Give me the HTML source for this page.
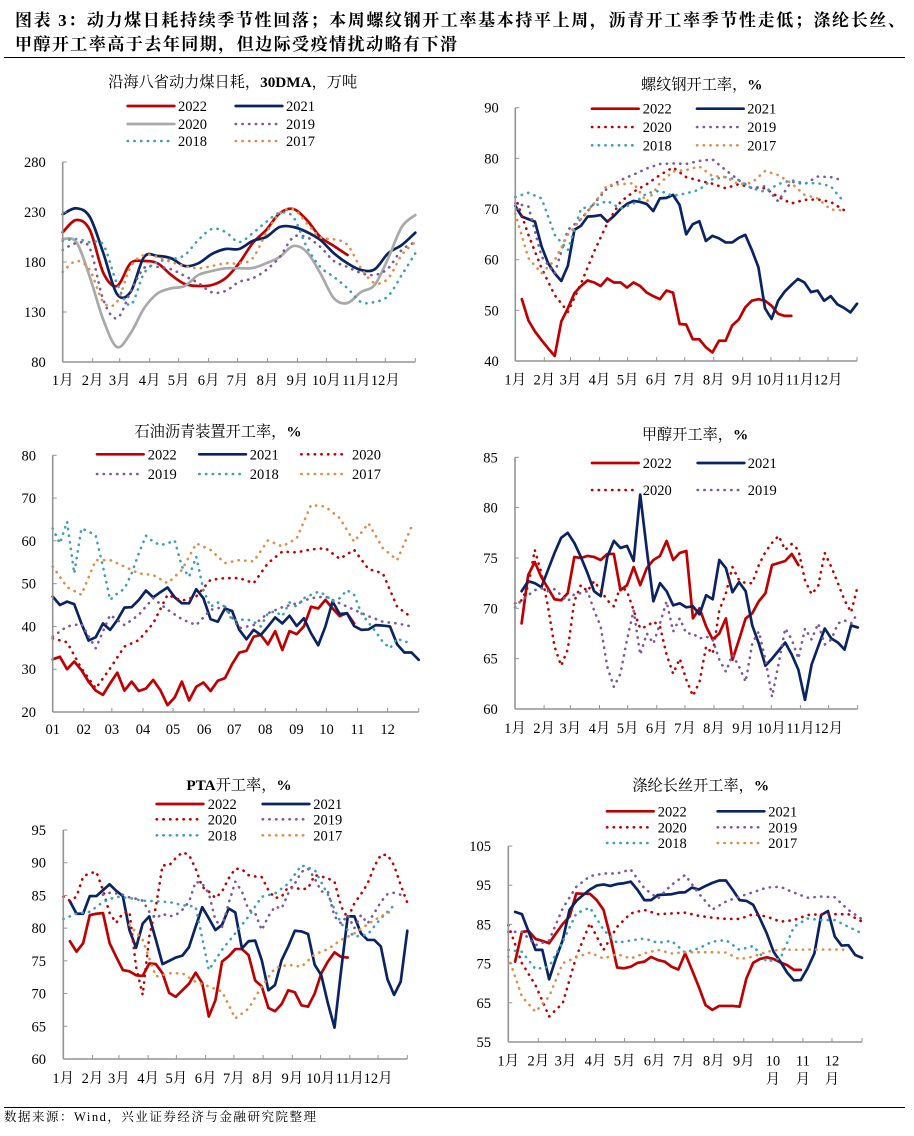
<!DOCTYPE html>
<html lang="zh-CN">
<head>
<meta charset="utf-8">
<title>图表 3</title>
<style>
html,body{margin:0;padding:0;background:#fff;}
body{width:914px;height:1136px;overflow:hidden;}
svg{display:block;}
text{font-family:"Liberation Serif","Noto Serif CJK SC",serif;fill:#000;}
</style>
</head>
<body>
<svg id="root" xmlns="http://www.w3.org/2000/svg" width="914" height="1136" viewBox="0 0 914 1136">
  <text x="15" y="26" font-size="17" font-weight="bold" textLength="890" lengthAdjust="spacing">图表 3：动力煤日耗持续季节性回落；本周螺纹钢开工率基本持平上周，沥青开工率季节性走低；涤纶长丝、</text>
  <text x="15" y="50" font-size="17" font-weight="bold" textLength="442" lengthAdjust="spacing">甲醇开工率高于去年同期，但边际受疫情扰动略有下滑</text>
  <line x1="4" x2="905" y1="57.5" y2="57.5" stroke="#000" stroke-width="1"/>
  <line x1="4" x2="905" y1="1107.5" y2="1107.5" stroke="#000" stroke-width="1"/>
  <text x="4" y="1121" font-size="12.5" textLength="312" lengthAdjust="spacing">数据来源：Wind，兴业证券经济与金融研究院整理</text>
</svg>
<script>
// ---- shared axis data ----
const monthStartDays = [0,31,59,90,120,151,181,212,243,273,304,334,365];
const monthLabels = ['1月','2月','3月','4月','5月','6月','7月','8月','9月','10月','11月','12月'];
const numericMonthLabels = ['01','02','03','04','05','06','07','08','09','10','11','12'];

// ---- chart 1: coal consumption (values every 2 weeks) ----
const coalTicks = [80,130,180,230,280];
const coal2022 = [209.7,222,212,169,156,178.7,181,178.7,167,158,156,157,163.7,178.7,198.7,212,228.7,233,222,205,196,187];
const coal2021 = [227.7,233.7,225,188.7,148,150,185,186,183.7,176,178.7,188,193,193,201,205,215,215,210,202,188.7,178.7,172,172.7,188.7,197,209.3];
const coal2020 = [203,200,165,122,95,108.7,133.7,148.7,153.7,156,167,171,173.7,173.7,174,178.7,185,196,190,168.7,143.7,139,150,157,183.7,215,227];
const coal2019 = [192,198.7,193.7,142,123.7,150,174,175,172.7,166,159,149.7,151,160,163.7,172,185,204.7,204.7,195,181,175,169,167,173.7,192,200];
const coal2018 = [201,203,199.7,197,158.7,137,168.7,180,182.7,187,202,213,210,200,208.7,220,229,225,195,175,165,153.7,140,140,146,167,188.7];
const coal2017 = [170,181,172,140,140,175,187,185,180,176,173.7,176,178.7,178.7,183.7,208.7,228.7,232.7,218.7,204.7,202.7,197,173.7,159,163.7,187,200];

// ---- chart 2: rebar operating rate ----
const rebarTicks = [40,50,60,70,80,90];
const rebar2022 = [52.2,48,45.8,44.1,42.5,41,47.8,50.4,53.4,54.8,55.9,55.5,54.8,56.3,55.5,55.5,54.5,55.5,54.8,53.5,52.8,52.2,53.9,53.5,47.3,47.2,44.3,44.3,42.7,41.7,44,44,47,48.2,50.6,51.9,52.2,51.9,50.9,49.3,48.9,48.9];
const rebar2021 = [70.6,68.5,68,67.5,62.6,59.3,57.3,55.8,58.8,65.9,66.7,68.5,68.6,68.8,67.5,68.6,70,71,71.6,71.4,71,69.6,72.1,72.2,72.8,70.8,65,67,67.6,63.7,64.7,64.2,63.4,63.4,64.3,64.9,61.9,58.5,50.4,48.3,51.9,53.7,55,56.2,55.5,53.6,53.9,51.9,52.8,51.2,50.5,49.6,51.3];
const rebar2020 = [72.4,64.9,58.3,53,49.7,55.3,61.6,67.2,71.4,73.4,74.9,76.7,78.2,76.3,75.6,75,74.1,74.9,74.2,74.1,72.4,71.1,71.8,71.9,71.4,69.8];
const rebar2019 = [71.1,70.5,60.6,57.3,65.9,68,71.1,74.1,75.7,76.8,78,78.9,79,78.9,79.5,79.8,77.7,75.7,74.1,74.5,71.5,75.4,74.9,76.4,76.3,75.6];
const rebar2018 = [72.4,73.2,72.1,64.9,61.9,70.1,70.6,71.6,70.1,71.1,73.1,73.6,72.6,73.1,73.8,75.9,76.3,75.7,74.1,73.4,74.9,75.7,75.1,75.1,74.5,71.4];
const rebar2017 = [69.1,60.3,57.3,59.9,64.9,68,71.1,74.7,74.9,75.1,71.4,75.1,77.4,77.7,78.4,76.5,76.3,74.9,75.2,77.5,76.7,75.1,72.8,72.1,69.9,69.7];

// ---- chart 3: asphalt operating rate ----
const asphaltTicks = [20,30,40,50,60,70,80];
const asphalt2022 = [32.3,32.9,30,31.8,29.8,27.1,25,24,26.7,29.2,25,27.1,24.9,25.5,27.5,25.1,21.6,23.4,27.1,22.7,25.9,26.9,24.9,27.3,27.9,31.2,33.9,34.3,37.6,38,35.8,38.9,34.5,38.9,38.2,40,44.6,44.2,46.2,44.2,42.4,43.1,40.7];
const asphalt2021 = [47,45,45.8,45.2,40.7,36.7,37.5,40.7,39.2,41.5,44.4,44.5,46.2,48.4,46.8,48,49.1,46.8,45.4,45.4,48.7,46.6,41.7,41.1,44.2,43.6,39.2,37,39.2,38,40,42.1,40.7,42.5,40.1,41.9,38.4,35.6,40,45.8,42.9,43.1,40.1,39.2,39.3,40.3,40.2,40,35.8,33.9,33.9,32.2];
const asphalt2020 = [37.2,36.3,30.2,25.5,30.2,35.3,36.8,40.7,47.4,46,47,50.9,51.3,51.3,50.1,54.8,57.5,57.3,58,58.3,55.8,57.9,53.4,52.4,44.6,42.1];
const asphalt2019 = [37.6,40,40.6,34.9,42.7,40.3,42.7,46.6,43.9,41.7,40.3,43.9,44.6,39.6,40.3,43.1,44.5,45.4,46.6,47,45.4,43.9,42.4,41.1,40.7,40];
const asphalt2018 = [62.9,59.4,64.5,52.4,62.9,62.2,61.2,54,46.2,47.7,48.8,52.4,57.1,61.2,59.8,59,59.4,60.1,54,51.6,56.3,48.5,44.6,45.6,44.6,41.5,41.5,41.7,41.1,40,43.1,43.5,42.4,45.6,44.6,46.6,47.4,48.1,47.4,45.8,46.6,48.5,47.4,43.1,40.9,38.8,36.4,34.9,37.2,36.4,36.3];
const asphalt2017 = [54,49.2,47.4,55.5,55.5,54,52.4,52,50.1,53.2,59.4,57.9,54.8,55.5,55.2,60.1,58.7,60.6,68.4,68,65.3,59.8,64.1,58.3,55.5,63.3];

// ---- chart 4: methanol operating rate ----
const methanolTicks = [60,65,70,75,80,85];
const methanol2022 = [68.5,73.3,74.6,73.1,72,70.9,70.8,71.5,75.1,75,75.2,75.1,74.8,75.4,75.4,71.8,72.3,74.1,72.3,74,74.8,75.2,76.7,74.8,75.5,75.7,69,70,68.2,66.9,67.5,69,64.9,66.9,69,69.5,70.7,71.5,74.3,74.5,74.7,75.4,74.3];
const methanol2021 = [71.7,72.7,72.5,72.1,73.8,75.5,77,77.5,76.5,75.1,73.5,71.7,71.2,75.1,76.7,76,76.2,74.7,81.3,75.8,70.7,72.5,71.7,70.3,70.5,70.1,70.2,69.4,71.3,70.9,74.8,74,71.6,72.6,71.7,68.3,66.5,64.3,65,65.8,66.6,65.4,63.9,60.9,64.4,66.2,68,67,66.6,65.9,68.3,68.1];
const methanol2020 = [70.5,70.8,72.2,75.8,73.5,70.2,66.2,64.3,65.9,70.7,72.3,71.7,72.7,71.8,70.8,70.2,72.2,71.7,69.8,68,68.2,68.7,68.2,65.4,63.5,65,62.9,61.3,62.7,66.2,65.5,69.8,71.5,74.1,72.8,72.5,72.5,74.3,75.6,76.5,77.2,75.8,76.4,75.8,72.8,71.4,72.2,75.5,74.1,72.5,70.8,69.6,72.2];
const methanol2019 = [70.1,70.8,71.3,71.8,72,71.7,71.9,71.3,70.7,71.4,71.5,71.7,69.8,68.2,64.2,62.2,63.5,66.9,69.8,65.4,67.5,66.5,68.5,70.7,67.7,69,67.5,67.5,67,67.2,66.9,64.9,63.7,65.4,64.2,62.7,66.5,67.7,64.9,61.2,64.5,68,66.9,65,68,66.9,68.5,66.4,66.9,68.5,68.8,68.5,69.5];

// ---- chart 5: PTA operating rate ----
const ptaTicks = [60,65,70,75,80,85,90,95];
const pta2022 = [78,76.4,77.7,82,82.2,82.3,77.7,75.6,73.6,73.4,72.8,72.7,74.6,74.5,73.1,70.1,69.5,70.5,71.5,73.2,71.6,66.5,69,74.9,75.7,76.8,76.8,75.9,72,71.1,67.8,67.3,68.4,70.5,70.2,68.2,68,70,73.1,74.9,76.3,75.6,75.5];
const pta2021 = [84.1,82.2,82.2,84.9,84.9,85.8,86.7,85.7,84.9,79.7,77,80.7,81.8,78.2,74.5,75,75.5,75.8,77.1,80.2,83.2,81.5,79.7,80.5,83,82.4,76.9,78,78.1,75.1,70.5,71.3,75.1,77.2,79.6,79.5,79.1,74.4,72.8,68.5,64.8,73.6,81.8,81.8,79.2,78.2,78.2,77.2,72.2,69.8,71.8,79.6];
const pta2020 = [84.8,84.2,84.8,87.9,88.4,88.6,85.8,82.3,80.8,82.3,82.5,74.1,69.8,78.7,83.3,89.6,89.6,90.7,91.6,91.2,89.1,86.3,85.6,84.6,85.6,87.6,89.1,89,88.1,87.9,87.8,85.8,84.6,84.8,86.3,86.2,85.9,86.1,88.1,87.9,87.6,87.1,83.3,81.5,83.8,85.2,86.8,89.4,91.2,91.2,89.6,86.6,83.9];
const pta2019 = [85.1,85.4,85.3,85.1,84.7,84.5,84.2,82.5,81.5,82.2,81.8,82,82.8,84,87.1,86.8,85.3,81.2,80.2,83.8,87.1,85.6,82.8,82.3,79.7,81.8,83.3,83,85.3,86.8,88.6,89.1,87.6,85.6,85.6,81.8,80.7,82,80,82,80.7,82.3,84,85.2,85.4,85.1];
const pta2018 = [81.4,82.2,82.5,84,84.8,84.6,84.2,84.1,84,83.5,83.3,73.6,76.7,79.2,81.8,84.8,85.3,86.8,89.6,88.9,85.1,80.7,78.7,79,81.5,83.5];
const pta2017 = [80.5,78.2,72.6,73.1,73.1,71.8,71.1,70.3,66.2,67.7,71.1,73.9,74.4,74.1,76,76.8,78.2,79.2,80.6,81.8,82.8];

// ---- chart 6: polyester filament operating rate ----
const filamentTicks = [55,65,75,85,95,105];
const filament2022 = [75.5,83.1,83.3,81.3,80.8,80.2,82.7,85.1,87,92.9,92.8,92.8,91.2,88.7,81.9,74,73.8,74.2,75.2,75.5,76.7,75.9,75.5,74.2,73.5,77.6,73.4,69.1,64.4,63.2,64.2,64.2,64.2,64,71.2,75.2,76.2,76.6,76.2,75.3,74.6,73.4,73.4];
const filament2021 = [88.2,87.6,83.1,78.5,78.5,71,76.3,81,88.7,91,92.5,93.9,94.9,95.2,94.8,95.3,95.5,95.9,93.8,91.2,91.2,92.5,92.6,92.7,93.1,93.2,94.4,93.9,94.8,95.6,96.2,96.2,93.8,91.2,91,90,86.5,82.7,78,75.5,72.7,70.7,70.8,73.8,77.6,87.4,88.4,81.9,79.6,79.7,77.2,76.5];
const filament2020 = [84.8,75.1,69.5,61.5,64.9,76.8,85.3,78.5,84.4,87.8,88.7,87.6,87.8,88,87.2,86.7,86.4,86.4,87.6,87,85.7,86.1,87.4,87.6,87.6,87.6,85.7];
const filament2019 = [83.1,83.1,79.7,80.9,89.1,94.6,97.3,98,98,99,94.2,91.6,95.1,97.6,92.9,88.8,90.8,92.1,93.2,94.4,94.6,93.1,91.8,92.1,91.9,88.7,86.3];
const filament2018 = [78.5,78,73.6,74.2,80.6,87.8,89.3,83.6,80.3,80.9,81.4,80.3,80.8,77.8,78.9,80.6,81,78.5,79.5,75.5,76.3,84.4,86.5,86.1,86.1,84.4,82.7];
const filament2017 = [76.8,66.6,62.7,66.6,75.1,76.6,77.8,76.3,77.4,76.3,77.6,78.5,77.6,77.9,77.9,77.9,77.8,76.1,76.8,78,78.6,78.5,78.6,78.6,78.6,78.5];

// ---- styles ----
const RED='#c00000', NAVY='#0a2463', GRAY='#a9a9a9', PURPLE='#7b5a9e', TEAL='#3f9fb5', ORANGE='#e08f4a';
const AXIS='#949494';
const NS='http://www.w3.org/2000/svg';
const root=document.getElementById('root');

function make(tag,attrs,parent){
  const el=document.createElementNS(NS,tag);
  for(const k in attrs){el.setAttribute(k,attrs[k]);}
  parent.appendChild(el);
  return el;
}
function smoothPath(pts){
  let d='M'+pts[0][0].toFixed(2)+' '+pts[0][1].toFixed(2);
  for(let i=0;i<pts.length-1;i++){
    const p0=pts[Math.max(i-1,0)],p1=pts[i],p2=pts[i+1],p3=pts[Math.min(i+2,pts.length-1)];
    const c1x=p1[0]+(p2[0]-p0[0])/6,c1y=p1[1]+(p2[1]-p0[1])/6;
    const c2x=p2[0]-(p3[0]-p1[0])/6,c2y=p2[1]-(p3[1]-p1[1])/6;
    d+='C'+c1x.toFixed(2)+' '+c1y.toFixed(2)+' '+c2x.toFixed(2)+' '+c2y.toFixed(2)+' '+p2[0].toFixed(2)+' '+p2[1].toFixed(2);
  }
  return d;
}
function linePath(pts){
  return pts.map((p,i)=>(i?'L':'M')+p[0].toFixed(2)+' '+p[1].toFixed(2)).join('');
}
function strokeAttrs(style,color){
  if(style==='solid'){
    return {fill:'none',stroke:color,'stroke-width':2.7,'stroke-linejoin':'round','stroke-linecap':'round'};
  }
  return {fill:'none',stroke:color,'stroke-width':2.6,'stroke-linecap':'round','stroke-linejoin':'round','stroke-dasharray':'0.3 6.4'};
}

const charts=[
 {name:'coal',x0:62.7,x1:415.3,yTop:162,yBot:362,min:80,max:280,weeks:52,ticks:coalTicks,labelRight:45.7,xLabelY:380,months:monthLabels,smooth:true,
  title:[['沿海八省动力煤日耗，',0],['30DMA',1],['，万吨',0]],titleX:232.7,titleY:82,
  series:[
   {label:'2022',values:coal2022,start:0,step:2,style:'solid',color:RED,lx:127.7,ly:106,tx:178},
   {label:'2021',values:coal2021,start:0,step:2,style:'solid',color:NAVY,lx:235.7,ly:106,tx:286},
   {label:'2020',values:coal2020,start:0,step:2,style:'solid',color:GRAY,lx:127.7,ly:124,tx:178},
   {label:'2019',values:coal2019,start:0,step:2,style:'dot',color:PURPLE,lx:235.7,ly:124,tx:286},
   {label:'2018',values:coal2018,start:0,step:2,style:'dot',color:TEAL,lx:127.7,ly:141,tx:178,lw:41.5},
   {label:'2017',values:coal2017,start:0,step:2,style:'dot',color:ORANGE,lx:235.7,ly:141,tx:286}]},
 {name:'rebar',x0:515.3,x1:857,yTop:107.7,yBot:361,min:40,max:90,weeks:52,ticks:rebarTicks,labelRight:498.7,xLabelY:379.5,months:monthLabels,
  title:[['螺纹钢开工率，',0],['%',1]],titleX:701.7,titleY:84.3,
  series:[
   {label:'2022',values:rebar2022,start:1,step:1,style:'solid',color:RED,lx:592,ly:108.7,tx:642.7},
   {label:'2021',values:rebar2021,start:0,step:1,style:'solid',color:NAVY,lx:697,ly:108.7,tx:747.3},
   {label:'2020',values:rebar2020,start:0,step:2,style:'dot',color:RED,lx:592,ly:127,tx:642.7},
   {label:'2019',values:rebar2019,start:0,step:2,style:'dot',color:PURPLE,lx:697,ly:127,tx:747.3},
   {label:'2018',values:rebar2018,start:0,step:2,style:'dot',color:TEAL,lx:592,ly:145.3,tx:642.7},
   {label:'2017',values:rebar2017,start:0,step:2,style:'dot',color:ORANGE,lx:697,ly:145.3,tx:747.3}]},
 {name:'asphalt',x0:52.7,x1:418.7,yTop:455.3,yBot:712,min:20,max:80,weeks:51,ticks:asphaltTicks,labelRight:36,xLabelY:729,months:numericMonthLabels,
  title:[['石油沥青装置开工率，',0],['%',1]],titleX:218,titleY:431.7,
  series:[
   {label:'2022',values:asphalt2022,start:0,step:1,style:'solid',color:RED,lx:97,ly:454.3,tx:147.7},
   {label:'2021',values:asphalt2021,start:0,step:1,style:'solid',color:NAVY,lx:199.3,ly:454.3,tx:249.7},
   {label:'2020',values:asphalt2020,start:0,step:2,style:'dot',color:RED,lx:301.3,ly:454.3,tx:352,lw:41.5},
   {label:'2019',values:asphalt2019,start:0,step:2,style:'dot',color:PURPLE,lx:97,ly:474,tx:147.7},
   {label:'2018',values:asphalt2018,start:0,step:1,style:'dot',color:TEAL,lx:199.3,ly:474,tx:249.7,lw:41.5},
   {label:'2017',values:asphalt2017,start:0,step:2,style:'dot',color:ORANGE,lx:301.3,ly:474,tx:352,lw:41.5}]},
 {name:'methanol',x0:515,x1:857.7,yTop:457.3,yBot:709,min:60,max:85,weeks:52,ticks:methanolTicks,labelRight:497.7,xLabelY:728,months:monthLabels,
  title:[['甲醇开工率，',0],['%',1]],titleX:695,titleY:434.3,
  series:[
   {label:'2022',values:methanol2022,start:1,step:1,style:'solid',color:RED,lx:592,ly:463,tx:642.7},
   {label:'2021',values:methanol2021,start:1,step:1,style:'solid',color:NAVY,lx:697.7,ly:463,tx:747.7},
   {label:'2020',values:methanol2020,start:0,step:1,style:'dot',color:RED,lx:592,ly:490,tx:642.7,lw:41.5},
   {label:'2019',values:methanol2019,start:0,step:1,style:'dot',color:PURPLE,lx:697.7,ly:490,tx:747.7,lw:41.5}]},
 {name:'pta',x0:63.3,x1:407.3,yTop:830,yBot:1059,min:60,max:95,weeks:52,ticks:ptaTicks,labelRight:46,xLabelY:1078,months:monthLabels,
  title:[['PTA',1],['开工率，',0],['%',1]],titleX:239,titleY:785,
  series:[
   {label:'2022',values:pta2022,start:1,step:1,style:'solid',color:RED,lx:156.7,ly:804,tx:207.7},
   {label:'2021',values:pta2021,start:1,step:1,style:'solid',color:NAVY,lx:262.7,ly:804,tx:313.3},
   {label:'2020',values:pta2020,start:0,step:1,style:'dot',color:RED,lx:156.7,ly:819.3,tx:207.7,lw:41.5},
   {label:'2019',values:pta2019,start:6,step:1,style:'dot',color:PURPLE,lx:262.7,ly:819.3,tx:313.3,lw:41.5},
   {label:'2018',values:pta2018,start:0,step:2,style:'dot',color:TEAL,lx:156.7,ly:835.3,tx:207.7,lw:41.5},
   {label:'2017',values:pta2017,start:10,step:2,style:'dot',color:ORANGE,lx:262.7,ly:835.3,tx:313.3,lw:41.5}]},
 {name:'filament',x0:508.3,x1:862,yTop:846,yBot:1042,min:55,max:105,weeks:52,ticks:filamentTicks,labelRight:491,xLabelY:1060.7,months:monthLabels,wrapLong:true,
  title:[['涤纶长丝开工率，',0],['%',1]],titleX:700.7,titleY:785.7,
  series:[
   {label:'2022',values:filament2022,start:1,step:1,style:'solid',color:RED,lx:607,ly:811.3,tx:657.7},
   {label:'2021',values:filament2021,start:1,step:1,style:'solid',color:NAVY,lx:717.7,ly:811.3,tx:768.3},
   {label:'2020',values:filament2020,start:0,step:2,style:'dot',color:RED,lx:607,ly:827.3,tx:657.7,lw:41.5},
   {label:'2019',values:filament2019,start:0,step:2,style:'dot',color:PURPLE,lx:717.7,ly:827.3,tx:768.3,lw:41.5},
   {label:'2018',values:filament2018,start:0,step:2,style:'dot',color:TEAL,lx:607,ly:843,tx:657.7,lw:41.5},
   {label:'2017',values:filament2017,start:0,step:2,style:'dot',color:ORANGE,lx:717.7,ly:843,tx:768.3,lw:41.5}]}
];

charts.forEach(function(c){
  const g=make('g',{},root);
  
  
  const xScale=function(week){return c.x0+week/c.weeks*(c.x1-c.x0);};
  const yScale=function(v){return c.yBot-(v-c.min)/(c.max-c.min)*(c.yBot-c.yTop);};
  const xFrac=function(day){return c.x0+day/365*(c.x1-c.x0);};

  // title
  const title=make('text',{x:c.titleX,y:c.titleY+5,'text-anchor':'middle','font-size':15.2},g);
  
  
  c.title.forEach(function(part){
    const sp=make('tspan',part[1]?{'font-weight':'bold'}:{},title);
    sp.textContent=part[0];
  });

  // series
  c.series.forEach(function(s){
    const pts=s.values.map(function(v,i){return [xScale(s.start+i*s.step),yScale(v)];});
    const attrs=strokeAttrs(s.style,s.color);
    attrs.d=c.smooth?smoothPath(pts):linePath(pts);
    const p=make('path',attrs,g);
    
    
  });

  // axes
  const yAxis=make('line',{x1:c.x0,x2:c.x0,y1:c.yTop,y2:c.yBot,stroke:AXIS,'stroke-width':1.6},g);
  
  
  const xAxis=make('line',{x1:c.x0,x2:c.x1,y1:c.yBot,y2:c.yBot,stroke:AXIS,'stroke-width':1.6},g);
  
  

  c.ticks.forEach(function(t){
    const y=yScale(t);
    const tk=make('line',{x1:c.x0,x2:c.x0+4,y1:y,y2:y,stroke:AXIS,'stroke-width':1},g);
    
    
    const lb=make('text',{x:c.labelRight,y:y+5,'text-anchor':'end','font-size':14.5},g);
    
    
    lb.textContent=t;
  });

  monthStartDays.forEach(function(d,i){
    const x=xFrac(d);
    const tk=make('line',{x1:x,x2:x,y1:c.yBot-4,y2:c.yBot,stroke:AXIS,'stroke-width':1},g);
    
    
    if(i<c.months.length){
      const label=c.months[i];
      const lb=make('text',{x:x,y:c.xLabelY+5,'text-anchor':'middle','font-size':14.5},g);
      
      
      if(c.wrapLong&&label.length>2){
        const a=make('tspan',{x:x},lb);
        a.textContent=label.slice(0,2);
        const b=make('tspan',{x:x,dy:18.5},lb);
        b.textContent=label.slice(2);
      }else{
        lb.textContent=label;
      }
    }
  });

  // legend
  c.series.forEach(function(s){
    const entry=make('g',{},g);
    
    
    const attrs=strokeAttrs(s.style,s.color);
    attrs.d='M'+s.lx+' '+s.ly+'H'+(s.lx+(s.lw||46.6));
    make('path',attrs,entry);
    const tx=make('text',{x:s.tx,y:s.ly+5,'font-size':14.5},entry);
    tx.textContent=s.label;
  });
});
</script>
</body>
</html>
